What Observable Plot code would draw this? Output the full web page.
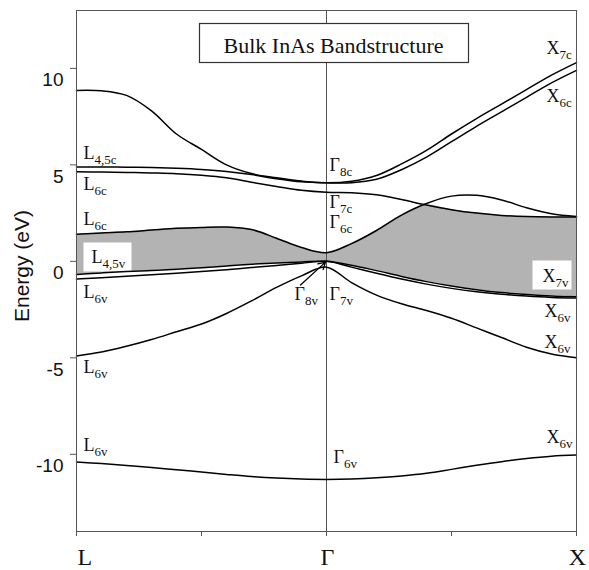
<!DOCTYPE html>
<html>
<head>
<meta charset="utf-8">
<script src="https://cdn.jsdelivr.net/npm/d3@7"></script>
<script src="https://cdn.jsdelivr.net/npm/@observablehq/plot@0.6"></script>
<style>
  body { margin: 0; background: #fff; }
  #chart svg { display: block; }
</style>
</head>
<body>
<div id="chart"></div>
<script>
// k path coordinate: 0 = L, 1 = Γ, 2 = X
const kPoints = [0, 0.1, 0.2, 0.3, 0.4, 0.5, 0.6, 0.7, 0.8, 0.9, 1.0,
                 1.1, 1.2, 1.3, 1.4, 1.5, 1.6, 1.7, 1.8, 1.9, 2.0];

// Energies (eV) at each k point
const bandC4 = [8.86, 8.84, 8.6, 7.8, 6.6, 5.8, 5.0, 4.55, 4.33, 4.16, 4.07,
                4.15, 4.45, 5.05, 5.75, 6.6, 7.4, 8.15, 8.9, 9.65, 10.3];
const bandC3 = [4.89, 4.89, 4.88, 4.86, 4.82, 4.76, 4.66, 4.5, 4.28, 4.12, 4.07,
                4.07, 4.25, 4.75, 5.4, 6.2, 7.0, 7.75, 8.5, 9.25, 9.9];
const bandC2 = [4.64, 4.63, 4.61, 4.58, 4.54, 4.46, 4.33, 4.1, 3.88, 3.68, 3.58,
                3.56, 3.45, 3.2, 2.92, 2.68, 2.5, 2.38, 2.32, 2.3, 2.3];
const bandC1 = [1.40, 1.47, 1.53, 1.62, 1.71, 1.76, 1.78, 1.65, 1.2, 0.72, 0.45,
                0.92, 1.6, 2.4, 3.0, 3.38, 3.42, 3.18, 2.78, 2.47, 2.33];
const bandV1 = [-0.68, -0.6, -0.53, -0.47, -0.41, -0.33, -0.24, -0.15, -0.08, -0.03, 0,
                -0.2, -0.48, -0.78, -1.05, -1.28, -1.47, -1.62, -1.72, -1.8, -1.84];
const bandV2 = [-0.92, -0.85, -0.77, -0.7, -0.62, -0.53, -0.43, -0.32, -0.21, -0.1, 0,
                -0.3, -0.62, -0.92, -1.18, -1.4, -1.57, -1.7, -1.8, -1.87, -1.9];
const bandV3 = [-4.9, -4.7, -4.4, -4.05, -3.65, -3.25, -2.7, -2.05, -1.35, -0.75, -0.3,
                -1.1, -1.75, -2.2, -2.55, -2.95, -3.45, -3.95, -4.45, -4.8, -5.0];
const bandV4 = [-10.4, -10.48, -10.58, -10.68, -10.8, -10.92, -11.04, -11.15, -11.23, -11.28, -11.3,
                -11.28, -11.22, -11.12, -10.98, -10.78, -10.57, -10.38, -10.22, -10.1, -10.04];

const bandNames = ["c4", "c3", "c2", "c1", "v1", "v2", "v3", "v4"];
const bandValues = [bandC4, bandC3, bandC2, bandC1, bandV1, bandV2, bandV3, bandV4];

const xTicks = [0, 0.5, 1, 1.5, 2];
const xTickLabels = ["L", "", "Γ", "", "X"];
const yTicks = [-10, -5, 0, 5, 10];

// Band-symmetry labels: position (k, E of baseline) and text (main_sub)
const labelK = [0.028, 0.028, 0.028, 0.06, 0.028, 0.028, 0.028,
                1.012, 1.012, 1.012, 0.872, 1.012, 1.028,
                1.88, 1.88, 1.864, 1.872, 1.872, 1.88];
const labelE = [5.30, 3.72, 1.9, -0.06, -1.9, -5.8, -9.83,
                4.67, 2.76, 1.74, -2.0, -2.0, -10.45,
                10.74, 8.25, -1.07, -2.89, -4.5, -9.41];
const labelText = ["L_4,5c", "L_6c", "L_6c", "L_4,5v", "L_6v", "L_6v", "L_6v",
                   "Γ_8c", "Γ_7c", "Γ_6c", "Γ_8v", "Γ_7v", "Γ_6v",
                   "X_7c", "X_6c", "X_7v", "X_6v", "X_6v", "X_6v"];

// Arrow from the Γ8v label to the Γ point
const arrowFrom = {k: 0.896, E: -1.23};
const arrowTo = {k: 0.996, E: -0.04};

const titleText = "Bulk InAs Bandstructure";
const yLabel = "Energy (eV)";

// ---- build tables ----
const bandRows = bandNames.flatMap((name, b) =>
  kPoints.map((k, i) => ({band: name, k, E: bandValues[b][i]})));
const gapRows = kPoints.map((k, i) => ({
  k, lo: bandV1[i], hi: Math.min(bandC1[i], bandC2[i])
}));
const labelRows = labelText.map((t, i) => ({k: labelK[i], E: labelE[i], t}));
const xLabelRows = xTicks.map((k, i) => ({k, label: xTickLabels[i]})).filter(d => d.label);

const serif = "'Liberation Serif', 'Times New Roman', Times, serif";
const sans = "'Liberation Sans', Arial, Helvetica, sans-serif";

const plot = Plot.plot({
  width: 589,
  height: 570,
  marginLeft: 76,
  marginRight: 13,
  marginTop: 10,
  marginBottom: 39,
  x: {domain: [0, 2]},
  y: {domain: [-14, 13]},
  style: {background: "white", color: "#111", overflow: "visible"},
  marks: [
    Plot.areaY(gapRows, {x: "k", y1: "lo", y2: "hi", fill: "#b3b3b3", curve: "catmull-rom"}),
    Plot.ruleX([1], {stroke: "#555", strokeWidth: 1}),
    // white label backgrounds and title box
    Plot.frame({fill: "white", stroke: "none", insetLeft: 7, insetRight: 445, insetTop: 232, insetBottom: 260}),
    Plot.frame({fill: "white", stroke: "none", insetLeft: 456, insetRight: 5, insetTop: 250, insetBottom: 242}),
    Plot.frame({fill: "white", stroke: "#333", strokeWidth: 1.2, insetLeft: 123, insetRight: 108, insetTop: 13, insetBottom: 469}),
    Plot.line(bandRows, {x: "k", y: "E", z: "band", stroke: "black", strokeWidth: 1.5, curve: "catmull-rom"}),
    Plot.arrow([0], {x1: () => arrowFrom.k, y1: () => arrowFrom.E, x2: () => arrowTo.k, y2: () => arrowTo.E,
                     stroke: "black", strokeWidth: 1.3, headLength: 9}),
    Plot.frame({stroke: "#555", strokeWidth: 1}),
    Plot.axisX({ticks: xTicks, tickSize: 5, fill: "none", label: null, stroke: "#555"}),
    Plot.axisY({ticks: yTicks, tickSize: 6, fill: "none", label: null, stroke: "#555"}),
    Plot.text(yTicks, {y: d => d, text: d => String(d), frameAnchor: "left", textAnchor: "end",
                       dx: -13, dy: 12, fontSize: 19, fontFamily: sans, fill: "#111"}),
    Plot.text([yLabel], {frameAnchor: "left", textAnchor: "middle", lineAnchor: "middle", rotate: -90,
                         dx: -54, dy: -5, fontSize: 21, fontFamily: sans, fill: "#111"}),
    Plot.text(xLabelRows.filter(d => d.k === 0), {x: "k", text: "label", frameAnchor: "bottom", textAnchor: "start",
                                                  lineAnchor: "bottom", dx: 1, dy: 33, fontSize: 24, fontFamily: serif, fill: "#111"}),
    Plot.text(xLabelRows.filter(d => d.k !== 0), {x: "k", text: "label", frameAnchor: "bottom", textAnchor: "middle",
                                                  lineAnchor: "bottom", dx: 1, dy: 33, fontSize: 24, fontFamily: serif, fill: "#111"}),
    Plot.text([titleText], {frameAnchor: "top", textAnchor: "middle", lineAnchor: "bottom",
                            dx: 7, dy: 42, fontSize: 22, fontFamily: serif, fill: "#111"}),
    Plot.text(labelRows, {x: "k", y: "E", text: "t", textAnchor: "start", lineAnchor: "bottom",
                          fontSize: 18, fontFamily: serif, fill: "#111"})
  ]
});

// render subscripts (text after "_") as smaller, lowered tspans
d3.select(plot).selectAll("text").each(function() {
  const s = this.textContent;
  const i = s.indexOf("_");
  if (i < 0) return;
  const main = s.slice(0, i), sub = s.slice(i + 1);
  this.textContent = "";
  const t = d3.select(this);
  t.append("tspan").text(main);
  t.append("tspan").attr("dy", 5).attr("font-size", 13).text(sub);
});

document.getElementById("chart").appendChild(plot);
</script>
</body>
</html>
